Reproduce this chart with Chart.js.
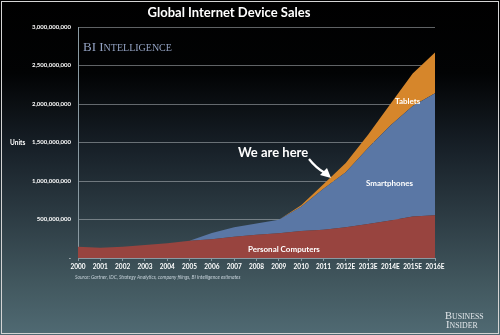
<!DOCTYPE html>
<html>
<head>
<meta charset="utf-8">
<title>Global Internet Device Sales</title>
<script src="https://cdn.jsdelivr.net/npm/chart.js@4.4.1/dist/chart.umd.min.js"></script>
<style>
	html, body { margin: 0; padding: 0; background: #000; }
	canvas { display: block; }
</style>
</head>
<body>
<canvas id="device_sales" width="500" height="335"></canvas>
<script>
// ----- ----- -----
// data (millions of units)
// ----- ----- -----

const years = ['2000', '2001', '2002', '2003', '2004', '2005', '2006', '2007', '2008',
	'2009', '2010', '2011', '2012E', '2013E', '2014E', '2015E', '2016E'];
const pcUnits = [146, 133, 146, 168, 190, 223, 245, 275, 302, 322, 350, 368, 400, 443, 486, 540, 555];
const smartphoneUnits = [0, 0, 0, 0, 0, 0, 80, 125, 145, 175, 316, 530, 715, 987, 1234, 1435, 1585];
const tabletUnits = [0, 0, 0, 0, 0, 0, 0, 0, 0, 0, 18, 60, 120, 170, 280, 420, 530];
const yTicks = [0, 500, 1000, 1500, 2000, 2500, 3000];

const million = 1000000;

// ----- ----- -----
// helpers
// ----- ----- -----

// draws pieces of text one after another, each with its own font
function drawParts(c, parts, x, y, color) {
	c.fillStyle = color;
	c.textAlign = 'left';
	c.textBaseline = 'alphabetic';
	parts.forEach((part) => {
		c.font = part[1];
		c.fillText(part[0], x, y);
		x += c.measureText(part[0]).width;
	});
}

const backdrop = {
	id: 'backdrop',
	beforeDraw(chart) {
		const c = chart.ctx;
		let g = c.createLinearGradient(0, 0, 0, chart.height);
		g.addColorStop(0, '#000000');
		g.addColorStop(0.22, '#020304');
		g.addColorStop(0.45, '#182129');
		g.addColorStop(0.65, '#2d3c44');
		g.addColorStop(0.85, '#42585f');
		g.addColorStop(1, '#506a73');
		c.save();
		c.fillStyle = g;
		c.fillRect(0, 0, chart.width, chart.height);
		c.restore();
	}
};

const captions = {
	id: 'captions',
	afterDraw(chart) {
		const c = chart.ctx;
		c.save();

		// title
		c.fillStyle = '#ffffff';
		c.font = 'bold 13px Lato';
		c.textAlign = 'center';
		c.textBaseline = 'middle';
		c.fillText('Global Internet Device Sales', 229, 13);

		// axis title
		c.font = 'bold 6.5px Lato';
		c.textAlign = 'left';
		c.fillText('Units', 10, 143);

		// series labels
		c.font = 'bold 8px Lato';
		c.fillText('Tablets', 395, 101);
		c.fillText('Smartphones', 366, 183);
		c.fillText('Personal Computers', 248, 249.5);

		// we are here + arrow
		c.font = 'bold 13px Lato';
		c.fillText('We are here', 238, 153);
		c.strokeStyle = '#ffffff';
		c.lineWidth = 2.2;
		c.beginPath();
		c.moveTo(309, 159);
		c.quadraticCurveTo(316, 168, 325, 173);
		c.stroke();
		c.beginPath();
		c.moveTo(331, 178);
		c.lineTo(320, 175);
		c.lineTo(327, 168);
		c.closePath();
		c.fillStyle = '#ffffff';
		c.fill();

		// source line
		c.fillStyle = '#c4d0d8';
		c.font = 'italic 4.9px Lato';
		c.textBaseline = 'middle';
		c.fillText('Source: Gartner, IDC, Strategy Analytics, company filings, BI Intelligence estimates', 75, 277);

		// logos
		drawParts(c, [['BI I', '13px "Liberation Serif"'], ['NTELLIGENCE', '10px "Liberation Serif"']], 83, 51, '#93a2c2');
		drawParts(c, [['B', '10.5px "Liberation Serif"'], ['USINESS', '7.8px "Liberation Serif"']], 445, 318.5, '#e2e6ea');
		drawParts(c, [['I', '10.5px "Liberation Serif"'], ['NSIDER', '7.8px "Liberation Serif"']], 446, 328, '#e2e6ea');

		// frame
		c.strokeStyle = '#d4d4d4';
		c.lineWidth = 1;
		c.strokeRect(1.5, 1.5, chart.width - 3, chart.height - 3);

		c.restore();
	}
};

// ----- ----- -----
// chart js
// ----- ----- -----

let chartData = {
	labels: years,
	datasets: [{
		label: 'Personal Computers',
		data: pcUnits.map((v) => v * million),
		backgroundColor: '#98443f',
		fill: 'origin'
	}, {
		label: 'Smartphones',
		data: smartphoneUnits.map((v) => v * million),
		backgroundColor: '#5a77a5',
		fill: '-1'
	}, {
		label: 'Tablets',
		data: tabletUnits.map((v) => v * million),
		backgroundColor: '#d6862b',
		fill: '-1'
	}]
};

const salesChart = new Chart('device_sales', {
	type: 'line',
	data: chartData,
	plugins: [backdrop, captions],
	options: {
		responsive: false,
		animation: false,
		devicePixelRatio: 1,
		layout: {
			padding: {top: 27, right: 65, left: 0, bottom: 0}
		},
		elements: {
			line: {
				borderWidth: 0,
				tension: 0
			},
			point: {
				radius: 0
			}
		},
		plugins: {
			legend: {display: false},
			tooltip: {enabled: false}
		},
		scales: {
			x: {
				offset: false,
				grid: {
					drawOnChartArea: false,
					drawTicks: true,
					tickLength: 3,
					color: '#8a9aa2'
				},
				border: {display: true, color: '#8a9aa2'},
				ticks: {
					color: '#ffffff',
					font: {family: 'Lato', weight: 'bold', size: 6.5},
					maxRotation: 0,
					autoSkip: false,
					padding: 2
				},
				afterFit(scale) {
					scale.height = 77;
				}
			},
			y: {
				stacked: true,
				min: 0,
				max: 3000 * million,
				afterBuildTicks(scale) {
					scale.ticks = yTicks.map((v) => ({value: v * million}));
				},
				grid: {
					color: 'rgba(190, 196, 200, 0.5)',
					lineWidth: 1,
					drawTicks: false
				},
				border: {display: true, color: '#8a9aa2'},
				ticks: {
					color: '#ffffff',
					font: {family: 'Lato', weight: 'bold', size: 6},
					padding: 7,
					callback: (value) => value === 0 ? '-' : value.toLocaleString('en-US')
				},
				afterFit(scale) {
					scale.width = 78;
				}
			}
		}
	}
});
</script>
</body>
</html>
